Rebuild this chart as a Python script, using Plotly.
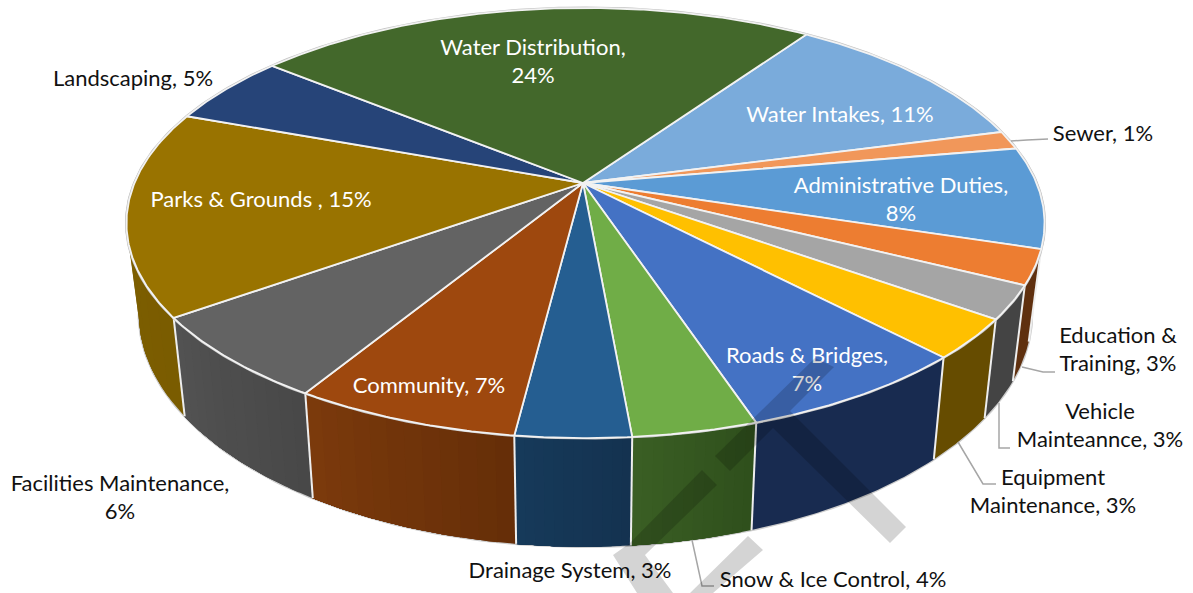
import math
import plotly.graph_objects as go

# ---- data ----
categories = ["Water Intakes", "Sewer", "Administrative Duties", "Education & Training",
              "Vehicle Mainteannce", "Equipment Maintenance", "Roads & Bridges",
              "Snow & Ice Control", "Drainage System", "Community", "Facilities Maintenance",
              "Parks & Grounds ", "Landscaping", "Water Distribution"]
values = [11.3, 1.4, 7.6, 2.6, 2.5, 3.0, 7.0, 3.7, 3.4, 6.7, 6.4, 15.4, 5.3, 23.7]
label_lines = [["Water Intakes, 11%"], ["Sewer, 1%"], ["Administrative Duties,", "8%"],
               ["Education &", "Training, 3%"], ["Vehicle", "Mainteannce, 3%"],
               ["Equipment", "Maintenance, 3%"], ["Roads & Bridges,", "7%"],
               ["Snow & Ice Control, 4%"], ["Drainage System, 3%"], ["Community, 7%"],
               ["Facilities Maintenance,", "6%"], ["Parks & Grounds , 15%"],
               ["Landscaping, 5%"], ["Water Distribution,", "24%"]]

# ---- styles ----
top_colors = ["#7aabdb", "#f1975a", "#5b9bd5", "#ed7d31", "#a5a5a5", "#ffc000", "#4472c4",
              "#70ad47", "#255e91", "#9e480e", "#636363", "#997300", "#264478", "#43682b"]
wall_right = ["#3f6a94", "#8a5a38", "#2f5f8f", "#5f300f", "#444444", "#664c00", "#182b50",
              "#2f4f1c", "#143250", "#652e08", "#484848", "#7a5c00", "#182b50", "#2f4f1c"]
wall_left = ["#3f6a94", "#8a5a38", "#2f5f8f", "#5f300f", "#444444", "#664c00", "#182b50",
             "#3a5f24", "#163a5a", "#7c3a0c", "#525252", "#7f6000", "#182b50", "#2f4f1c"]
label_centers = [(840, 115), (1103, 134), (901, 200), (1118, 350), (1100, 426), (1053, 492),
                 (807, 370), (833, 580), (570, 571), (429, 386), (120, 498), (261, 200),
                 (133, 79), (533, 62)]
label_white = [True, False, True, False, False, False, True, False, False, True, False, True,
               False, True]

FONT = "Lato"
FONT_SIZE = 22
LINE_GAP = 28.5
TEXT_DY = 1.5

# ---- projection of the pie disc ----
CX, CY = 583, 183
A, B, K = 451, 207.6, 0.186
RIM_DX = 2.5
START = 34.4


def rim(deg):
    x, y = math.sin(math.radians(deg)), -math.cos(math.radians(deg))
    w = 1 - K * y
    return CX + RIM_DX + A * x / w, CY + B * y / w


def low(pt):
    return CX + 0.973 * (pt[0] - CX), 270 + 1.085 * (pt[1] - CY)


def arc(a0, a1, step=1.0):
    n = max(2, int(abs(a1 - a0) / step) + 1)
    return [a0 + (a1 - a0) * i / (n - 1) for i in range(n)]


def mix(c0, c1, t):
    p = [int(c0[i:i + 2], 16) for i in (1, 3, 5)]
    q = [int(c1[i:i + 2], 16) for i in (1, 3, 5)]
    return "rgb(%d,%d,%d)" % tuple(round(u + (v - u) * t) for u, v in zip(p, q))


total = sum(values)
edges = [START]
for v in values:
    edges.append(edges[-1] + 360 * v / total)

fig = go.Figure()


def poly(xs, ys, fill, line, width):
    fig.add_trace(go.Scatter(x=xs, y=ys, mode="lines", fill="toself", fillcolor=fill,
                             line=dict(color=line, width=width), hoverinfo="skip",
                             showlegend=False))


# outer silhouette of the wall
sil = arc(85, 275)
pts = [rim(a) for a in sil] + [low(rim(a)) for a in reversed(sil)]
poly([p[0] for p in pts], [p[1] for p in pts], "#c8c8c8", "#cccccc", 2.5)

# wall gradient: each slice painted from its start, later bands overlaying earlier ones
order = sorted(range(len(values)), key=lambda i: rim((edges[i] + edges[i + 1]) / 2)[1])
for i in order:
    a0, a1 = edges[i], edges[i + 1]
    n = 1 if wall_right[i] == wall_left[i] else 12
    for j in range(n):
        s0 = a0 + (a1 - a0) * j / n
        ang = arc(s0, a1, 0.5)
        pts = [rim(a) for a in ang] + [low(rim(a)) for a in reversed(ang)]
        poly([p[0] for p in pts], [p[1] for p in pts],
             mix(wall_right[i], wall_left[i], (j + .5) / n), "rgba(0,0,0,0)", 0)

# white edges between wall sections
for e in edges:
    a = e % 360
    if 100 < a < 262:
        p = rim(a)
        q = low(p)
        fig.add_trace(go.Scatter(x=[p[0], q[0]], y=[p[1], q[1]], mode="lines",
                                 line=dict(color="#eeeeee", width=2), hoverinfo="skip",
                                 showlegend=False))

# back outline of the disc
ang = arc(0, 360)
fig.add_trace(go.Scatter(x=[rim(a)[0] for a in ang], y=[rim(a)[1] for a in ang], mode="lines",
                         line=dict(color="#c4c4c4", width=3), hoverinfo="skip", showlegend=False))

# top slices
for i in range(len(values)):
    ang = arc(edges[i], edges[i + 1], 0.5)
    pts = [(CX, CY)] + [rim(a) for a in ang] + [(CX, CY)]
    poly([p[0] for p in pts], [p[1] for p in pts], top_colors[i], "#f2f2f2", 1.8)

# labels
for lines, (lx, ly), white in zip(label_lines, label_centers, label_white):
    ys = [ly + TEXT_DY + (k - (len(lines) - 1) / 2) * LINE_GAP for k in range(len(lines))]
    fig.add_trace(go.Scatter(x=[lx] * len(lines), y=ys, text=lines, mode="text",
                             textposition="middle center", hoverinfo="skip", showlegend=False,
                             textfont=dict(family=FONT, size=FONT_SIZE,
                                           color="#ffffff" if white else "#111111")))

# leader lines of the outside labels
leaders = ["M1011 141 L1027 140 L1048 139",
           "M1022 367 L1043 372 L1055 372",
           "M999 403 L999 448 L1010 448",
           "M958 442 L983 484 L996 484",
           "M692 540 L702 586 L714 586"]
shapes = [dict(type="path", path=p, line=dict(color="#a6a6a6", width=1.5), layer="above")
          for p in leaders]

# grey page watermark laid over everything
watermark = ("M815 358 L834 367 L790 411 L906 527 L890 543 L773 428 L730 471 L715 456 Z "
             "M702 470 L717 485 L645 555 L673 593 L637 593 L613 555 L630 543 Z "
             "M748 536 L763 550 L713 593 L690 593 Z")
shapes.append(dict(type="path", path=watermark, fillcolor="rgba(0,0,0,0.17)",
                   line=dict(width=0), layer="above"))

fig.update_layout(width=1193, height=593, margin=dict(l=0, r=0, t=0, b=0),
                  paper_bgcolor="white", plot_bgcolor="white", showlegend=False,
                  xaxis=dict(range=[0, 1193], visible=False, fixedrange=True),
                  yaxis=dict(range=[593, 0], visible=False, fixedrange=True),
                  shapes=shapes)
fig.write_html("out.html", config={"displayModeBar": False},
               post_script="document.body.style.margin='0';")
